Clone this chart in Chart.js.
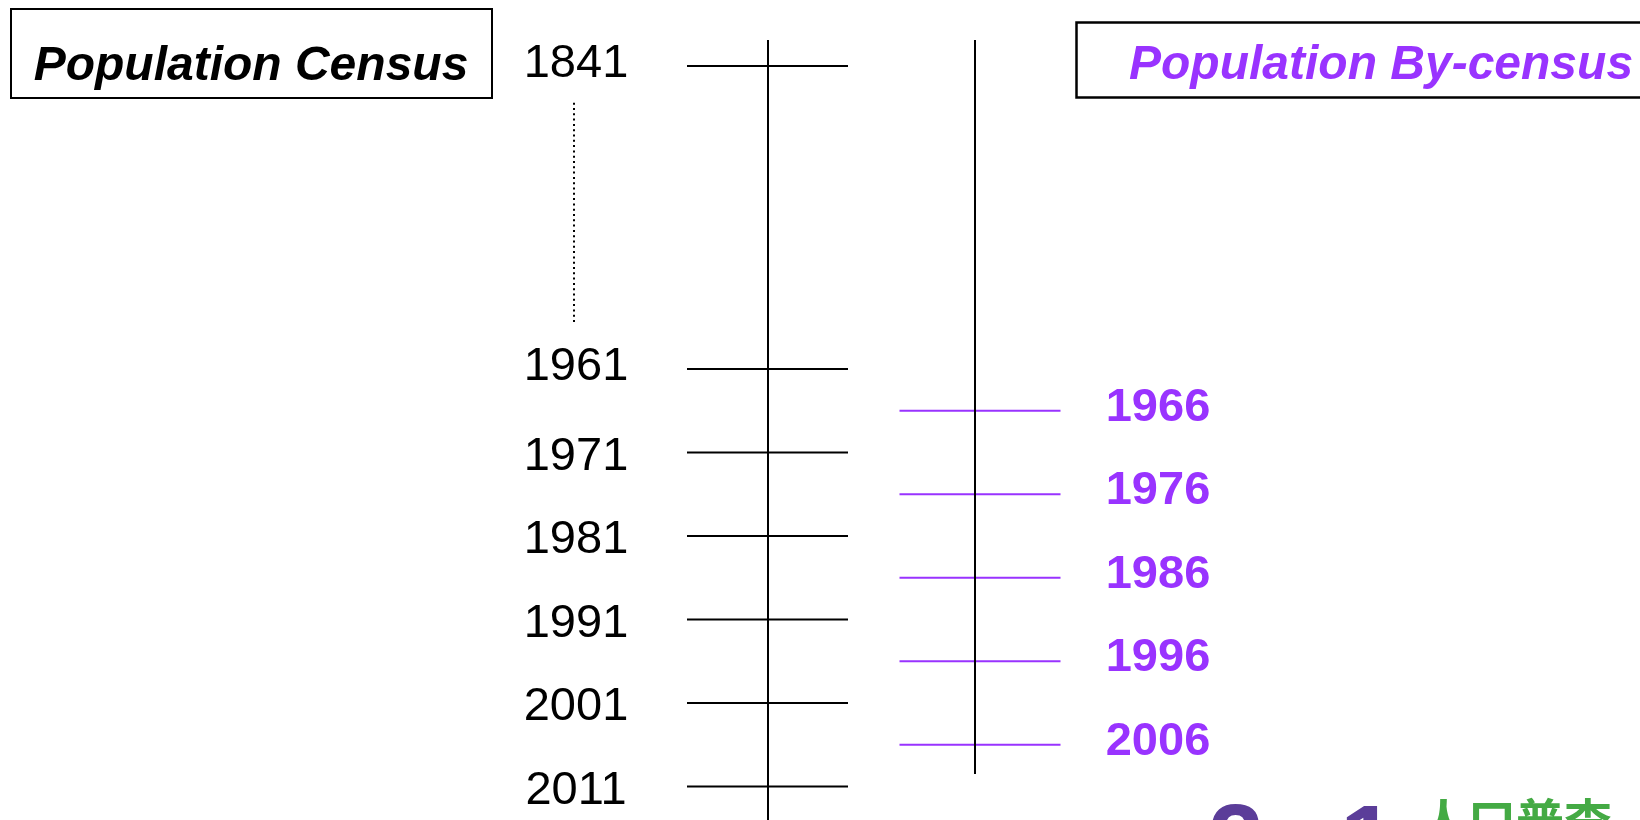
<!DOCTYPE html>
<html><head><meta charset="utf-8">
<script src="https://cdn.jsdelivr.net/npm/chart.js@4/dist/chart.umd.min.js"></script>
<style>html,body{margin:0;padding:0;background:#fff;overflow:hidden}canvas{display:block}</style>
</head><body>
<canvas id="c" width="1640" height="820" style="width:1640px;height:820px"></canvas>
<script>
// ---- data ----
const censusYears = [1841, 1961, 1971, 1981, 1991, 2001, 2011];
const censusLabels = ["1841", "1961", "1971", "1981", "1991", "2001", "2011"];
const byCensusYears = [1966, 1976, 1986, 1996, 2006];
const byCensusLabels = ["1966", "1976", "1986", "1996", "2006"];
const headerLeft = "Population Census";
const headerRight = "Population By-census";
const logoDigits = ["2", "1"];
const logoText = "人口普查";

// broken time axis: years before 1961 are drawn at the break above 1961
const BREAK_START = 1961;
const BREAK_POS = 1924.7;
function axisPos(y) { return y < BREAK_START ? BREAK_POS : y; }

// ---- layout (positions / styles) ----
const L = {
  yMin: 1916.8, yMax: 2015.0,
  censusAxisX: 768, byAxisX: 975,
  censusTickX: 767.5, byTickX: 980, tickHalf: 80.5,
  axisTop: 1921.6, byAxisBottom: 2009.5,
  dotX: 574, dotTop: 1929.1, dotBottom: 1955.6,
  censusLabelX: 576, censusLabelDy: 4, byLabelX: 1158, byLabelDy: -3
};
const PURPLE = '#9933ff';

const decor = {
  id: 'decor',
  beforeDraw(chart) {
    const ctx = chart.ctx;
    ctx.save();
    ctx.fillStyle = '#fff';
    ctx.fillRect(0, 0, chart.width, chart.height);
    ctx.restore();
  },
  afterDatasetsDraw(chart) {
    const ctx = chart.ctx, ys = chart.scales.y;
    ctx.save();
    // header boxes
    ctx.strokeStyle = '#000';
    ctx.lineWidth = 2;
    ctx.strokeRect(11, 9, 481, 89);
    ctx.lineWidth = 2.5;
    ctx.strokeRect(1076.5, 22.5, 620, 75);
    ctx.font = 'italic bold 48px "Liberation Sans", Arial, sans-serif';
    ctx.textBaseline = 'alphabetic';
    ctx.textAlign = 'center';
    ctx.fillStyle = '#000';
    ctx.fillText(headerLeft, 251, 80);
    ctx.textAlign = 'left';
    ctx.fillStyle = PURPLE;
    ctx.fillText(headerRight, 1129, 79);

    // census labels
    ctx.font = '47px "Liberation Sans", Arial, sans-serif';
    ctx.textAlign = 'center';
    ctx.textBaseline = 'middle';
    ctx.fillStyle = '#000';
    censusYears.forEach((y, i) => {
      const dy = y > BREAK_START ? L.censusLabelDy : -2;
      ctx.fillText(censusLabels[i], L.censusLabelX, ys.getPixelForValue(axisPos(y)) + dy);
    });
    // by-census labels
    ctx.font = 'bold 47px "Liberation Sans", Arial, sans-serif';
    ctx.fillStyle = PURPLE;
    byCensusYears.forEach((y, i) => {
      ctx.fillText(byCensusLabels[i], L.byLabelX, ys.getPixelForValue(y) + L.byLabelDy);
    });

    // logo (cut off at the bottom edge)
    ctx.textAlign = 'left';
    ctx.textBaseline = 'alphabetic';
    ctx.font = 'bold 100px "Liberation Sans", Arial, sans-serif';
    ctx.fillStyle = '#5b3d99';
    ctx.fillText(logoDigits[0], 1208, 874);
    ctx.fillText(logoDigits[1], 1340, 875);
    ctx.font = 'bold 48px "Noto Sans CJK SC", sans-serif';
    ctx.fillStyle = '#44aa44';
    ctx.textBaseline = 'top';
    ctx.fillText(logoText, 1420, 797);
    ctx.restore();
  }
};

new Chart(document.getElementById('c'), {
  type: 'scatter',
  data: {
    datasets: [
      { label: 'census axis', data: [{x: L.censusAxisX, y: L.axisTop}, {x: L.censusAxisX, y: L.yMax + 5}],
        showLine: true, borderColor: '#000', borderWidth: 2, pointRadius: 0 },
      { label: 'by-census axis', data: [{x: L.byAxisX, y: L.axisTop}, {x: L.byAxisX, y: L.byAxisBottom}],
        showLine: true, borderColor: '#000', borderWidth: 2, pointRadius: 0 },
      { label: 'break', data: [{x: L.dotX, y: L.dotTop}, {x: L.dotX, y: L.dotBottom}],
        showLine: true, borderColor: '#000', borderWidth: 2, borderDash: [2, 3.3], pointRadius: 0 },
      { label: 'Population Census', data: censusYears.map(y => ({x: L.censusTickX, y: axisPos(y)})),
        showLine: false, pointStyle: 'line', pointRadius: L.tickHalf,
        pointBorderColor: '#000', pointBackgroundColor: '#000', pointBorderWidth: 2 },
      { label: 'Population By-census', data: byCensusYears.map(y => ({x: L.byTickX, y: y})),
        showLine: false, pointStyle: 'line', pointRadius: L.tickHalf,
        pointBorderColor: PURPLE, pointBackgroundColor: PURPLE, pointBorderWidth: 2 }
    ]
  },
  options: {
    responsive: false,
    animation: false,
    events: [],
    layout: { padding: 0, autoPadding: false },
    plugins: { legend: { display: false }, tooltip: { enabled: false } },
    scales: {
      x: { type: 'linear', min: 0, max: 1640, display: false },
      y: { type: 'linear', min: L.yMin, max: L.yMax, reverse: true, display: false }
    }
  },
  plugins: [decor]
});
</script>
</body></html>
